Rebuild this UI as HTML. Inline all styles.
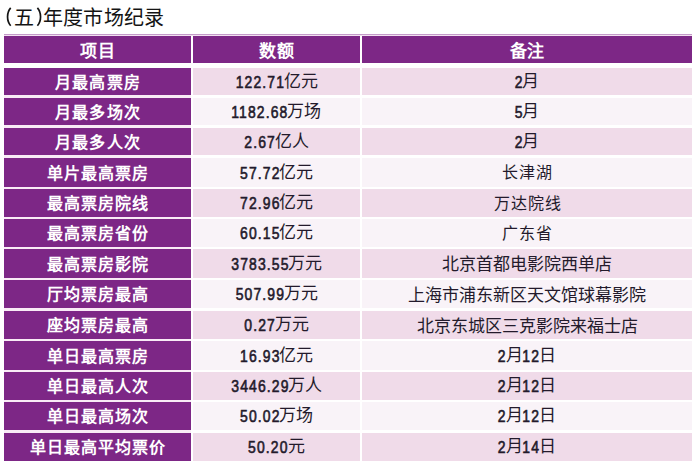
<!DOCTYPE html><html lang="zh-CN"><head><meta charset="utf-8"><style>
*{margin:0;padding:0;box-sizing:border-box}
html,body{width:695px;height:476px;background:#fff;overflow:hidden}
body{position:relative;font-family:"Liberation Sans",sans-serif}
.t{position:absolute;top:4px;font-size:20px;line-height:28px;color:#141414;white-space:nowrap;font-weight:500}
.c{position:absolute;display:flex;align-items:center;justify-content:center;white-space:nowrap;line-height:20px}
.c>i{font-style:normal;position:relative}
.p{background:#7d2786;color:#fff;font-weight:900;font-size:16px;letter-spacing:1.1px}
.p>i{top:1px;margin-right:-1.1px}
.n{color:#231a2b;font-size:17px}
.n b{font-weight:normal;-webkit-text-stroke:0.6px #231a2b;font-size:16px;position:relative;top:1px;display:inline-block;transform:scaleX(0.87);letter-spacing:1.3px}
.n u{text-decoration:none;font-weight:normal;position:relative;top:0px}
.m{color:#231a2b;font-size:16px;font-weight:500;letter-spacing:1px}
.m>i{top:0.5px;margin-right:-1px}
.song{color:#231a2b;font-size:17px;font-weight:500}
.song>i{top:1.5px}
.ln{position:absolute}
.sl{font-weight:400}
.hd{font-size:17px;letter-spacing:0.6px}
.hd>i{top:2.5px;margin-right:-0.6px}
</style></head><body>
<svg style="position:absolute;left:0;top:0" width="50" height="34" viewBox="0 0 50 34"><path d="M10.7 7.9 C6.5 12.5 6.5 21.2 10.7 25.8" fill="none" stroke="#141414" stroke-width="1.7"/><path d="M37.4 7.9 C41.6 12.5 41.6 21.2 37.4 25.8" fill="none" stroke="#141414" stroke-width="1.7"/></svg>
<div class="t" style="left:6px;color:transparent">(</div>
<div class="t" style="left:14px">五</div>
<div class="t" style="left:36px;color:transparent">)</div>
<div class="t" style="left:43px;letter-spacing:0.2px">年度市场纪录</div>
<div class="ln" style="left:4px;top:34px;width:688px;height:1px;background:#c49bc9"></div>
<div class="ln" style="left:4px;top:35px;width:688px;height:1px;background:#f3e0f1"></div>
<div class="ln" style="left:4px;top:94px;width:187px;height:340px;background:#f9ebf6"></div>
<div class="c p hd" style="left:4px;top:36px;width:187px;height:27px;"><i>项目</i></div>
<div class="c p hd" style="left:193px;top:36px;width:167px;height:27px;"><i>数额</i></div>
<div class="c p hd" style="left:362px;top:36px;width:330px;height:27px;"><i>备注</i></div>
<div class="c p" style="left:4px;top:68px;width:187px;height:27px;"><i>月最高票房</i></div>
<div class="c n" style="left:193px;top:68px;width:167px;height:27px;background:#f0dbe9;"><b style="margin-left:-3.69px;margin-right:-4.82px">122.71</b><u>亿元</u></div>
<div class="c n" style="left:362px;top:68px;width:330px;height:27px;background:#f0dbe9;"><b style="margin-left:-0.66px;margin-right:-1.79px">2</b><u>月</u></div>
<div class="c p" style="left:4px;top:98px;width:187px;height:27px;"><i>月最多场次</i></div>
<div class="c n" style="left:193px;top:98px;width:167px;height:27px;background:#f9f3f8;"><b style="margin-left:-4.35px;margin-right:-5.48px">1182.68</b><u>万场</u></div>
<div class="c n" style="left:362px;top:98px;width:330px;height:27px;background:#f9f3f8;"><b style="margin-left:-0.66px;margin-right:-1.79px">5</b><u>月</u></div>
<div class="c p" style="left:4px;top:128px;width:187px;height:27px;"><i>月最多人次</i></div>
<div class="c n" style="left:193px;top:128px;width:167px;height:27px;background:#f0dbe9;"><b style="margin-left:-2.36px;margin-right:-3.49px">2.67</b><u>亿人</u></div>
<div class="c n" style="left:362px;top:128px;width:330px;height:27px;background:#f0dbe9;"><b style="margin-left:-0.66px;margin-right:-1.79px">2</b><u>月</u></div>
<div class="c p" style="left:4px;top:158px;width:187px;height:29px;"><i>单片最高票房</i></div>
<div class="c n" style="left:193px;top:158px;width:167px;height:29px;background:#f9f3f8;"><b style="margin-left:-3.02px;margin-right:-4.16px">57.72</b><u>亿元</u></div>
<div class="c m" style="left:362px;top:158px;width:330px;height:29px;background:#f9f3f8;"><i>长津湖</i></div>
<div class="c p" style="left:4px;top:189px;width:187px;height:28px;"><i>最高票房院线</i></div>
<div class="c n" style="left:193px;top:189px;width:167px;height:28px;background:#f0dbe9;"><b style="margin-left:-3.02px;margin-right:-4.16px">72.96</b><u>亿元</u></div>
<div class="c m" style="left:362px;top:189px;width:330px;height:28px;background:#f0dbe9;"><i>万达院线</i></div>
<div class="c p" style="left:4px;top:219px;width:187px;height:28px;"><i>最高票房省份</i></div>
<div class="c n" style="left:193px;top:219px;width:167px;height:28px;background:#f9f3f8;"><b style="margin-left:-3.02px;margin-right:-4.16px">60.15</b><u>亿元</u></div>
<div class="c m" style="left:362px;top:219px;width:330px;height:28px;background:#f9f3f8;"><i>广东省</i></div>
<div class="c p" style="left:4px;top:249px;width:187px;height:29px;"><i>最高票房影院</i></div>
<div class="c n" style="left:193px;top:249px;width:167px;height:29px;background:#f0dbe9;"><b style="margin-left:-4.35px;margin-right:-5.48px">3783.55</b><u>万元</u></div>
<div class="c song" style="left:362px;top:249px;width:330px;height:29px;background:#f0dbe9;"><i>北京首都电影院西单店</i></div>
<div class="c p" style="left:4px;top:280px;width:187px;height:28px;"><i>厅均票房最高</i></div>
<div class="c n" style="left:193px;top:280px;width:167px;height:28px;background:#f9f3f8;"><b style="margin-left:-3.69px;margin-right:-4.82px">507.99</b><u>万元</u></div>
<div class="c song sl" style="left:362px;top:280px;width:330px;height:28px;background:#f9f3f8;"><i>上海市浦东新区天文馆球幕影院</i></div>
<div class="c p" style="left:4px;top:311px;width:187px;height:28px;"><i>座均票房最高</i></div>
<div class="c n" style="left:193px;top:311px;width:167px;height:28px;background:#f0dbe9;"><b style="margin-left:-2.36px;margin-right:-3.49px">0.27</b><u>万元</u></div>
<div class="c song" style="left:362px;top:311px;width:330px;height:28px;background:#f0dbe9;"><i>北京东城区三克影院来福士店</i></div>
<div class="c p" style="left:4px;top:341px;width:187px;height:29px;"><i>单日最高票房</i></div>
<div class="c n" style="left:193px;top:341px;width:167px;height:29px;background:#f9f3f8;"><b style="margin-left:-3.02px;margin-right:-4.16px">16.93</b><u>亿元</u></div>
<div class="c n" style="left:362px;top:341px;width:330px;height:29px;background:#f9f3f8;"><b style="margin-left:-0.66px;margin-right:-1.79px">2</b><u>月</u><b style="margin-left:-1.33px;margin-right:-2.46px">12</b><u>日</u></div>
<div class="c p" style="left:4px;top:372px;width:187px;height:28px;"><i>单日最高人次</i></div>
<div class="c n" style="left:193px;top:372px;width:167px;height:28px;background:#f0dbe9;"><b style="margin-left:-4.35px;margin-right:-5.48px">3446.29</b><u>万人</u></div>
<div class="c n" style="left:362px;top:372px;width:330px;height:28px;background:#f0dbe9;"><b style="margin-left:-0.66px;margin-right:-1.79px">2</b><u>月</u><b style="margin-left:-1.33px;margin-right:-2.46px">12</b><u>日</u></div>
<div class="c p" style="left:4px;top:402px;width:187px;height:28px;"><i>单日最高场次</i></div>
<div class="c n" style="left:193px;top:402px;width:167px;height:28px;background:#f9f3f8;"><b style="margin-left:-3.02px;margin-right:-4.16px">50.02</b><u>万场</u></div>
<div class="c n" style="left:362px;top:402px;width:330px;height:28px;background:#f9f3f8;"><b style="margin-left:-0.66px;margin-right:-1.79px">2</b><u>月</u><b style="margin-left:-1.33px;margin-right:-2.46px">12</b><u>日</u></div>
<div class="c p" style="left:4px;top:433px;width:187px;height:28px;"><i>单日最高平均票价</i></div>
<div class="c n" style="left:193px;top:433px;width:167px;height:28px;background:#f0dbe9;"><b style="margin-left:-3.02px;margin-right:-4.16px">50.20</b><u>元</u></div>
<div class="c n" style="left:362px;top:433px;width:330px;height:28px;background:#f0dbe9;"><b style="margin-left:-0.66px;margin-right:-1.79px">2</b><u>月</u><b style="margin-left:-1.33px;margin-right:-2.46px">14</b><u>日</u></div>
</body></html>
